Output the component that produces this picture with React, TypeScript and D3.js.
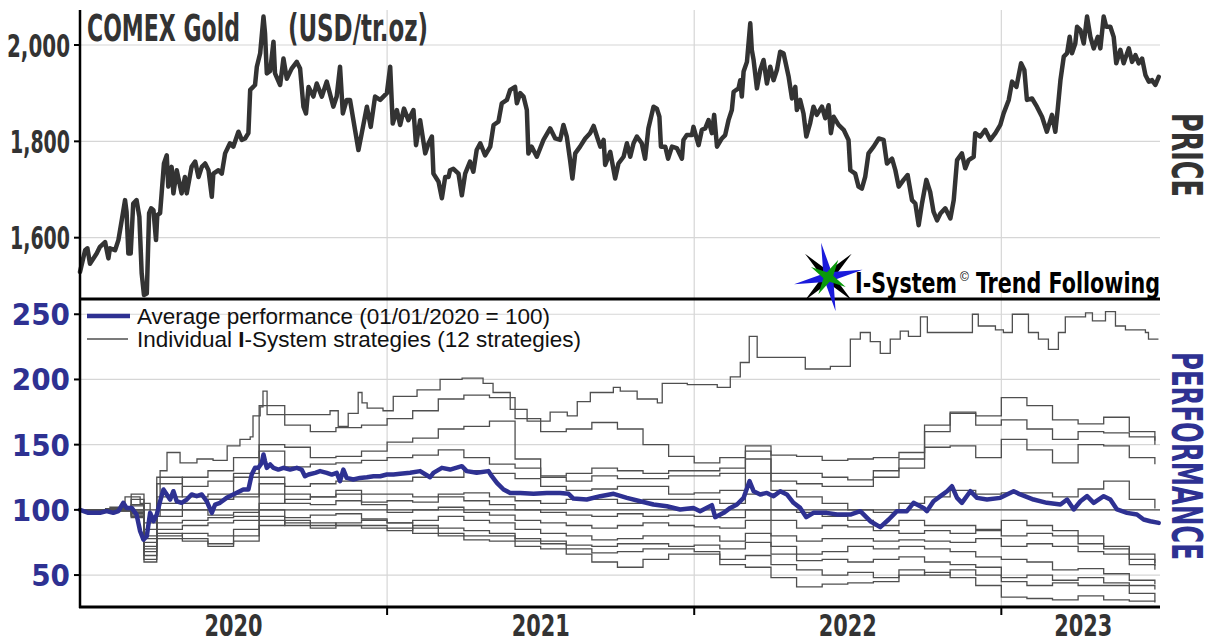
import React from "react";
import * as d3 from "d3";

// months are counted from 01/01/2020
const priceTicks = [1600, 1800, 2000];
const perfTicks = [50, 100, 150, 200, 250];
const yearBreaks = [12, 24, 36];
const yearLabels = ["2020", "2021", "2022", "2023"];
const yearLabelMonths = [6, 18, 30, 39.2];

// COMEX gold, [month, USD/tr.oz]
const goldPrice: [number, number][] = [
  [0, 1529], [0.2, 1574], [0.29, 1578], [0.39, 1546], [0.65, 1567], [0.78, 1581], [0.98, 1591], [1.11, 1557],
  [1.17, 1578], [1.37, 1574], [1.5, 1595], [1.63, 1636], [1.76, 1678], [1.82, 1653], [1.89, 1567], [1.98, 1567],
  [2.08, 1671], [2.21, 1678], [2.32, 1643], [2.41, 1526], [2.5, 1481], [2.61, 1484], [2.7, 1651], [2.78, 1661],
  [2.87, 1657], [2.97, 1595], [3.02, 1647], [3.13, 1651], [3.19, 1692], [3.28, 1754], [3.39, 1771], [3.45, 1706],
  [3.58, 1747], [3.65, 1692], [3.78, 1740], [3.97, 1692], [4.1, 1726], [4.17, 1692], [4.36, 1747], [4.5, 1758],
  [4.63, 1726], [4.76, 1747], [4.89, 1754], [5.02, 1740], [5.15, 1685], [5.21, 1733], [5.41, 1740], [5.54, 1733],
  [5.67, 1775], [5.86, 1796], [5.99, 1789], [6.19, 1820], [6.32, 1803], [6.45, 1806], [6.58, 1817], [6.65, 1907],
  [6.84, 1917], [6.91, 1955], [7.04, 1983], [7.17, 2059], [7.23, 2024], [7.3, 1941], [7.43, 1946], [7.56, 2007],
  [7.62, 1941], [7.82, 1917], [7.95, 1972], [8.08, 1930], [8.27, 1951], [8.47, 1965], [8.6, 1951], [8.73, 1872],
  [8.83, 1858], [8.93, 1913], [9.12, 1893], [9.25, 1920], [9.45, 1893], [9.64, 1924], [9.9, 1872], [10.03, 1893],
  [10.16, 1955], [10.27, 1858], [10.42, 1886], [10.55, 1886], [10.75, 1823], [10.88, 1782], [11.01, 1817], [11.21, 1872],
  [11.36, 1830], [11.53, 1893], [11.73, 1886], [11.99, 1900], [12.12, 1955], [12.22, 1837], [12.38, 1865], [12.51, 1834],
  [12.66, 1868], [12.83, 1844], [13.03, 1865], [13.13, 1792], [13.29, 1844], [13.49, 1775], [13.62, 1796], [13.75, 1810],
  [13.81, 1733], [14.01, 1716], [14.14, 1682], [14.27, 1726], [14.4, 1726], [14.46, 1740], [14.59, 1743], [14.79, 1733],
  [14.92, 1688], [15.05, 1733], [15.24, 1758], [15.37, 1737], [15.5, 1782], [15.64, 1796], [15.83, 1771], [16.03, 1789],
  [16.16, 1834], [16.35, 1841], [16.48, 1879], [16.68, 1886], [16.81, 1907], [17.0, 1913], [17.07, 1879], [17.2, 1900],
  [17.33, 1893], [17.46, 1865], [17.52, 1775], [17.65, 1789], [17.85, 1768], [18.11, 1803], [18.37, 1827], [18.57, 1806],
  [18.76, 1803], [18.89, 1834], [19.02, 1810], [19.15, 1761], [19.24, 1723], [19.35, 1775], [19.54, 1789], [19.74, 1806],
  [19.93, 1817], [20.07, 1832], [20.2, 1810], [20.33, 1789], [20.46, 1803], [20.52, 1751], [20.72, 1778], [20.91, 1723],
  [21.04, 1754], [21.24, 1768], [21.37, 1796], [21.5, 1768], [21.63, 1796], [21.76, 1810], [21.95, 1796], [22.08, 1764],
  [22.21, 1827], [22.41, 1872], [22.54, 1868], [22.64, 1851], [22.7, 1789], [22.87, 1789], [22.98, 1764], [23.13, 1789],
  [23.32, 1786], [23.52, 1764], [23.58, 1803], [23.71, 1813], [23.91, 1813], [23.97, 1830], [24.17, 1792], [24.3, 1824],
  [24.43, 1827], [24.56, 1844], [24.69, 1817], [24.78, 1855], [24.89, 1789], [25.08, 1806], [25.21, 1813], [25.34, 1844],
  [25.47, 1865], [25.54, 1903], [25.73, 1910], [25.8, 1927], [25.86, 1893], [25.93, 1945], [26.06, 1965], [26.19, 2045],
  [26.25, 1990], [26.32, 1969], [26.45, 1910], [26.58, 1948], [26.71, 1969], [26.84, 1920], [26.97, 1955], [27.1, 1927],
  [27.23, 1948], [27.36, 1986], [27.49, 1983], [27.69, 1934], [27.82, 1889], [27.95, 1913], [28.01, 1865], [28.14, 1886],
  [28.27, 1858], [28.38, 1810], [28.53, 1838], [28.66, 1872], [28.79, 1855], [28.99, 1872], [29.12, 1848], [29.25, 1875],
  [29.34, 1817], [29.45, 1851], [29.64, 1834], [29.84, 1824], [30.03, 1803], [30.1, 1740], [30.29, 1733], [30.42, 1706],
  [30.55, 1702], [30.68, 1726], [30.81, 1775], [31.01, 1789], [31.21, 1806], [31.4, 1803], [31.53, 1754], [31.73, 1764],
  [31.86, 1740], [31.99, 1706], [32.18, 1720], [32.34, 1730], [32.51, 1678], [32.64, 1671], [32.77, 1626], [32.9, 1671],
  [33.07, 1720], [33.22, 1695], [33.35, 1654], [33.49, 1636], [33.62, 1650], [33.81, 1661], [34.01, 1640], [34.14, 1678],
  [34.27, 1761], [34.46, 1775], [34.59, 1744], [34.72, 1761], [34.92, 1768], [34.98, 1817], [35.18, 1810], [35.37, 1824],
  [35.57, 1803], [35.77, 1817], [35.96, 1834], [36.09, 1858], [36.29, 1886], [36.42, 1924], [36.59, 1913], [36.77, 1962],
  [36.9, 1948], [37.0, 1886], [37.2, 1889], [37.39, 1872], [37.59, 1851], [37.78, 1820], [37.98, 1855], [38.11, 1820],
  [38.2, 1865], [38.31, 1927], [38.44, 1976], [38.57, 1983], [38.67, 2017], [38.76, 1983], [38.89, 2003], [38.96, 2038],
  [39.09, 2031], [39.22, 2003], [39.35, 2059], [39.48, 2017], [39.61, 1993], [39.77, 2017], [39.87, 1993], [40.0, 2059],
  [40.1, 2038], [40.26, 2038], [40.39, 2017], [40.49, 1962], [40.65, 1990], [40.78, 1962], [40.98, 1993], [41.11, 1965],
  [41.24, 1979], [41.37, 1962], [41.5, 1972], [41.63, 1938], [41.76, 1924], [41.89, 1927], [42.02, 1917], [42.15, 1934],
];

// average of the 12 strategies, [month, index]
const averagePerf: [number, number][] = [
  [0, 100], [0.33, 97.7], [0.78, 97.7], [1.04, 99], [1.3, 97.7], [1.5, 99], [1.69, 105.4], [1.82, 101.5],
  [2.02, 101.5], [2.21, 96.4], [2.35, 83.6], [2.48, 77.2], [2.61, 79.8], [2.74, 97.7], [2.87, 91.3], [3.0, 96.4],
  [3.13, 106.6], [3.26, 115.6], [3.39, 111.8], [3.52, 107.9], [3.65, 114.3], [3.78, 106.6], [3.97, 105.4], [4.17, 107.9],
  [4.36, 111.8], [4.56, 110.5], [4.76, 111.8], [4.95, 106.6], [5.15, 97.7], [5.28, 104.1], [5.47, 105.4], [5.73, 109.2],
  [5.99, 111.8], [6.38, 115.6], [6.58, 115.6], [6.71, 127.1], [6.84, 132.2], [6.97, 132.2], [7.1, 136], [7.17, 142.4],
  [7.23, 137.3], [7.3, 132.2], [7.43, 134.8], [7.56, 132.2], [7.75, 130.9], [7.95, 132.2], [8.21, 130.9], [8.47, 132.2],
  [8.66, 130.9], [8.79, 125.8], [8.93, 127.1], [9.19, 128.4], [9.38, 129.7], [9.64, 128.4], [9.84, 127.1], [10.03, 128.4],
  [10.16, 122], [10.29, 130.9], [10.42, 124.5], [10.68, 123.3], [10.94, 124.5], [11.21, 125], [11.47, 125.8], [11.73, 125.8],
  [11.99, 127.1], [12.25, 127.1], [12.51, 127.6], [12.9, 128.4], [13.29, 129.7], [13.68, 125], [13.81, 128.4], [14.14, 132.2],
  [14.46, 130.9], [14.92, 133.5], [15.11, 129.7], [15.5, 128.4], [15.96, 129.7], [16.09, 125.8], [16.29, 120.7], [16.55, 115.6],
  [16.81, 113], [17.2, 113], [17.72, 112.3], [18.24, 113], [18.76, 113], [19.09, 112.3], [19.28, 108.7], [19.8, 107.9],
  [20.33, 110.5], [20.85, 112.3], [21.37, 109.2], [21.89, 106.6], [22.41, 104.1], [22.93, 102.8], [23.45, 100.3], [23.97, 101.5],
  [24.23, 99], [24.69, 103.6], [24.82, 94.4], [25.15, 97.7], [25.41, 101.5], [25.67, 104.1], [25.93, 109.2], [26.16, 122],
  [26.32, 114.3], [26.58, 111.8], [26.84, 113], [27.1, 110.5], [27.36, 114.3], [27.62, 111.8], [27.88, 105.4], [28.14, 101.5],
  [28.38, 94.4], [28.66, 97.7], [29.18, 97.7], [29.58, 96.4], [30.1, 96.4], [30.49, 99], [30.88, 91.3], [31.27, 86.7],
  [31.6, 92.6], [31.92, 99], [32.31, 99], [32.57, 105.4], [32.96, 101.5], [33.09, 99], [33.35, 106.6], [33.62, 110.5],
  [33.88, 114.3], [34.07, 118.1], [34.27, 109.2], [34.46, 105.4], [34.79, 114.3], [35.05, 109.2], [35.44, 107.9], [35.96, 109.2],
  [36.48, 114.3], [36.74, 111.8], [37.26, 107.9], [37.78, 105.4], [38.31, 104.1], [38.57, 107.9], [38.83, 100.3], [39.09, 106.6],
  [39.35, 110.5], [39.61, 105.4], [40.0, 110.5], [40.26, 107.9], [40.52, 100.3], [40.91, 97.7], [41.3, 96.4], [41.56, 92.6],
  [41.82, 91.3], [42.15, 90],
];

// best individual strategy, [month, index]
const strategyTop: [number, number][] = [
  [0, 100], [1.17, 102], [1.76, 110], [2.35, 105], [2.74, 95], [3.13, 130], [3.4, 144], [3.91, 136], [4.57, 139],
  [5.2, 138], [5.75, 149], [6.25, 154], [6.65, 156], [6.76, 172], [7.04, 179], [7.15, 191], [7.31, 173], [8.6, 173],
  [9.77, 176], [10.09, 164], [10.48, 174], [10.87, 190], [11.02, 182], [11.22, 178], [11.84, 176], [12.24, 187],
  [13.17, 192], [14.07, 200], [14.93, 201], [15.75, 197], [16.14, 190], [16.81, 177], [17.47, 168], [18.37, 175],
  [19.04, 172], [19.43, 183], [19.94, 190], [20.84, 194], [21.11, 191], [21.77, 185], [22.56, 182], [22.75, 197],
  [23.73, 196], [24.9, 194], [25.41, 202], [25.8, 213], [26.15, 233], [26.46, 217], [28.07, 217], [28.34, 208],
  [29.32, 210], [30.1, 231], [30.49, 236], [30.88, 229], [31.27, 220], [31.66, 231], [32.05, 237], [32.37, 233],
  [32.84, 248], [33.11, 236], [34.48, 236], [34.87, 250], [35.1, 241], [35.77, 238], [36.08, 236], [36.43, 250],
  [36.67, 250], [37.06, 236], [37.45, 231], [37.84, 223], [38.23, 236], [38.5, 248], [39.29, 251], [39.56, 245],
  [40.07, 252], [40.46, 241], [40.85, 238], [41.63, 236], [41.75, 231], [42.14, 231],
];

// the other eleven strategies, sampled at these months
const stratMonths = [0, 1, 2, 2.5, 3, 4, 5, 6, 7, 8, 9, 10, 11, 12, 13, 14, 15, 16, 17, 18, 19, 20, 21, 22,
  23, 24, 25, 26, 27, 28, 29, 30, 31, 32, 33, 34, 35, 36, 37, 38, 39, 40, 41, 42];
const strategyB = [100, 101, 108, 90, 120, 125, 130, 140, 180, 165, 160, 163, 165, 170, 176, 185, 188, 186, 170, 160, 162, 167, 162, 150,
  141, 136, 140, 149, 142, 141, 138, 139, 140, 144, 165, 175, 172, 186, 180, 169, 166, 171, 160, 153];
const strategyC = [100, 99, 104, 85, 110, 118, 122, 128, 150, 148, 140, 141, 145, 152, 155, 162, 164, 168, 139, 126, 128, 132, 130, 128,
  130, 130, 132, 145, 128, 128, 125, 123, 130, 139, 160, 174, 165, 169, 162, 154, 160, 159, 156, 150];
const strategyD = [100, 100, 112, 80, 125, 110, 112, 125, 145, 133, 135, 136, 138, 140, 142, 146, 140, 135, 132, 125, 122, 126, 124, 124,
  126, 126, 128, 139, 122, 120, 118, 118, 125, 132, 148, 149, 140, 154, 146, 136, 150, 149, 140, 135];
const strategyE = [100, 100, 103, 78, 105, 105, 108, 110, 125, 118, 120, 122, 122, 122, 125, 125, 130, 128, 124, 118, 115, 116, 118, 118,
  112, 113, 115, 128, 115, 110, 105, 100, 98, 105, 110, 115, 112, 113, 113, 110, 116, 122, 108, 101];
const strategyF = [100, 100, 98, 70, 100, 105, 108, 112, 120, 112, 110, 112, 112, 112, 110, 112, 113, 110, 107, 105, 108, 108, 105, 108,
  108, 108, 105, 112, 100, 98, 95, 92, 88, 92, 88, 88, 85, 92, 88, 84, 80, 72, 66, 59];
const strategyG = [100, 100, 95, 65, 95, 100, 96, 98, 112, 105, 104, 107, 106, 107, 106, 110, 107, 104, 100, 98, 96, 95, 97, 95,
  96, 95, 94, 100, 92, 86, 88, 87, 84, 82, 84, 82, 84, 80, 82, 80, 74, 70, 62, 57];
const strategyH = [100, 99, 96, 68, 90, 92, 94, 95, 105, 108, 110, 115, 104, 98, 100, 102, 98, 96, 92, 90, 88, 86, 88, 90,
  88, 87, 86, 92, 80, 76, 78, 78, 76, 77, 76, 75, 78, 72, 74, 72, 68, 66, 58, 54];
const strategyI = [100, 100, 94, 62, 85, 88, 90, 92, 100, 94, 96, 97, 93, 90, 92, 95, 92, 90, 85, 82, 80, 77, 78, 80,
  80, 80, 76, 82, 72, 66, 68, 72, 70, 72, 70, 68, 64, 62, 60, 54, 55, 51, 46, 43];
const strategyJ = [100, 100, 97, 60, 80, 82, 80, 85, 95, 90, 88, 88, 86, 84, 88, 86, 84, 82, 78, 76, 73, 72, 74, 74,
  72, 73, 70, 75, 66, 61, 62, 60, 62, 64, 60, 58, 56, 48, 50, 46, 48, 44, 42, 39];
const strategyK = [100, 100, 100, 72, 78, 76, 72, 80, 92, 88, 86, 90, 92, 90, 86, 82, 80, 80, 76, 74, 70, 67, 68, 70,
  70, 68, 62, 65, 58, 54, 50, 52, 48, 54, 50, 54, 50, 45, 42, 44, 42, 42, 36, 30];
const strategyL = [100, 100, 99, 75, 82, 78, 74, 76, 88, 92, 90, 88, 88, 86, 82, 80, 77, 76, 72, 70, 66, 60, 56, 62,
  66, 66, 58, 56, 48, 41, 43, 44, 45, 50, 52, 48, 42, 33, 32, 31, 34, 31, 30, 29];

const otherStrategies = [strategyB, strategyC, strategyD, strategyE, strategyF, strategyG,
  strategyH, strategyI, strategyJ, strategyK, strategyL];

const W = 1211;
const H = 642;
const left = 80;
const right = 1160;
const priceTop = 10;
const split = 299;
const bottom = 607;

const dark = "#333333";
const blue = "#2e3192";
const grid = "#d6d6d6";
const stratColor = "#4f4f4f";
const narrow = "'Liberation Sans Narrow', 'DejaVu Sans Condensed', 'Arial Narrow', sans-serif";
const sans = "'Liberation Sans', Arial, sans-serif";

function starPoints(cx: number, cy: number, R: number, r: number, rotDeg: number) {
  const pts: string[] = [];
  for (let i = 0; i < 8; i++) {
    const a = ((rotDeg + i * 45) * Math.PI) / 180;
    const rad = i % 2 === 0 ? R : r;
    pts.push(`${(cx + rad * Math.sin(a)).toFixed(1)},${(cy - rad * Math.cos(a)).toFixed(1)}`);
  }
  return pts.join(" ");
}

export default function App() {
  const x = d3.scaleLinear().domain([0, 42.2]).range([left, right]);
  const yPrice = d3.scaleLinear().domain([1472.7, 2072.7]).range([split, priceTop]);
  const yPerf = d3.scaleLinear().domain([25.5, 261.7]).range([bottom, split]);

  const priceLine = d3.line<[number, number]>().x((d) => x(d[0])).y((d) => yPrice(d[1]));
  const perfLine = d3.line<[number, number]>().x((d) => x(d[0])).y((d) => yPerf(d[1]));
  const stepLine = d3.line<[number, number]>().x((d) => x(d[0])).y((d) => yPerf(d[1])).curve(d3.curveStepAfter);

  const stratSeries: [number, number][][] = otherStrategies.map((vals) =>
    vals.map((v, i) => [stratMonths[i], v] as [number, number])
  );

  const fmt = d3.format(",");
  const logoX = x(30.1);

  return (
    <svg width={W} height={H} style={{ position: "absolute", left: 0, top: 0, background: "#fff" }}>
      <rect width={W} height={H} fill="#fff" />

      {/* grids */}
      {priceTicks.map((t) => (
        <line key={"pg" + t} x1={left} x2={right} y1={yPrice(t)} y2={yPrice(t)} stroke={grid} strokeWidth={1.2} />
      ))}
      {perfTicks.map((t) => (
        <line key={"fg" + t} x1={left} x2={right} y1={yPerf(t)} y2={yPerf(t)} stroke={grid} strokeWidth={1.2} />
      ))}
      {yearBreaks.map((m) => (
        <line key={"vg" + m} x1={x(m)} x2={x(m)} y1={priceTop} y2={bottom} stroke={grid} strokeWidth={1.2} />
      ))}

      {/* price */}
      <path d={priceLine(goldPrice) || ""} fill="none" stroke={dark} strokeWidth={4.5} strokeLinejoin="round" strokeLinecap="round" />

      {/* performance */}
      {stratSeries.map((s, i) => (
        <path key={"s" + i} d={stepLine(s) || ""} fill="none" stroke={stratColor} strokeWidth={1.3} />
      ))}
      <path d={stepLine(strategyTop) || ""} fill="none" stroke={stratColor} strokeWidth={1.3} />
      <line x1={left} x2={right} y1={yPerf(100)} y2={yPerf(100)} stroke={stratColor} strokeWidth={1.3} />
      <path d={perfLine(averagePerf) || ""} fill="none" stroke={blue} strokeWidth={4.5} strokeLinejoin="round" strokeLinecap="round" />

      {/* axes */}
      <line x1={left} x2={left} y1={priceTop} y2={bottom + 1} stroke="#000" strokeWidth={2.5} />
      <line x1={left} x2={right} y1={split} y2={split} stroke="#000" strokeWidth={3} />
      <line x1={left - 1} x2={right} y1={bottom} y2={bottom} stroke="#000" strokeWidth={3} />
      {priceTicks.map((t) => (
        <g key={"pt" + t}>
          <line x1={left - 6} x2={left} y1={yPrice(t)} y2={yPrice(t)} stroke="#000" strokeWidth={2} />
          <text x={70} y={yPrice(t) + 11.5} textAnchor="end" fontFamily={narrow} fontWeight="bold" fontSize={32} fill={dark}
            textLength={t === 2000 ? 63 : 60} lengthAdjust="spacingAndGlyphs">
            {fmt(t)}
          </text>
        </g>
      ))}
      {perfTicks.map((t) => (
        <g key={"ft" + t}>
          <line x1={left - 6} x2={left} y1={yPerf(t)} y2={yPerf(t)} stroke="#000" strokeWidth={2} />
          <text x={70} y={yPerf(t) + 11} textAnchor="end" fontFamily={narrow} fontWeight="bold" fontSize={31} fill={blue}>
            {t}
          </text>
        </g>
      ))}
      {yearBreaks.map((m) => (
        <line key={"xt" + m} x1={x(m)} x2={x(m)} y1={bottom} y2={bottom + 8} stroke="#000" strokeWidth={2} />
      ))}
      {yearLabels.map((lab, i) => (
        <text key={lab} x={x(yearLabelMonths[i])} y={636} textAnchor="middle" fontFamily={narrow} fontWeight="bold" fontSize={30} fill={dark}
          textLength={58} lengthAdjust="spacingAndGlyphs">
          {lab}
        </text>
      ))}

      {/* titles */}
      <text x={87} y={41} fontFamily={narrow} fontWeight="bold" fontSize={37} fill={dark} textLength={153} lengthAdjust="spacingAndGlyphs">
        COMEX Gold
      </text>
      <text x={288} y={41} fontFamily={narrow} fontWeight="bold" fontSize={37} fill={dark} textLength={140} lengthAdjust="spacingAndGlyphs">
        (USD/tr.oz)
      </text>
      <text transform="translate(1187,155) rotate(90)" textAnchor="middle" dy="0.36em" fontFamily={narrow} fontWeight="bold" fontSize={42}
        fill={dark} textLength={84} lengthAdjust="spacingAndGlyphs">
        PRICE
      </text>
      <text transform="translate(1187,456) rotate(90)" textAnchor="middle" dy="0.36em" fontFamily={narrow} fontWeight="bold" fontSize={42}
        fill={blue} textLength={208} lengthAdjust="spacingAndGlyphs">
        PERFORMANCE
      </text>

      {/* legend */}
      <line x1={87} x2={130} y1={316} y2={316} stroke={blue} strokeWidth={4.5} />
      <text x={137} y={324} fontFamily={sans} fontSize={22.5} fill="#111">
        Average performance (01/01/2020 = 100)
      </text>
      <line x1={87} x2={128} y1={339} y2={339} stroke={stratColor} strokeWidth={1.3} />
      <text x={137} y={347} fontFamily={sans} fontSize={22.5} fill="#111">
        Individual <tspan fontWeight="bold">I</tspan>-System strategies (12 strategies)
      </text>

      {/* logo */}
      <g>
        <polygon points={starPoints(logoX - 22, 277, 33, 6, 45)} fill="#000" />
        <polygon points={starPoints(logoX - 22, 277, 35, 6, -12)} fill="#1a1adb" />
        <polygon points={starPoints(logoX - 22, 277, 20, 5, 30)} fill="#0a9a0a" />
        <text x={855} y={293} fontFamily={narrow} fontWeight="bold" fontSize={29} fill="#000" textLength={102} lengthAdjust="spacingAndGlyphs">
          I-System
        </text>
        <text x={960} y={281} fontFamily={sans} fontSize={12} fill="#000">
          ©
        </text>
        <text x={976} y={293} fontFamily={narrow} fontWeight="bold" fontSize={29} fill="#000" textLength={184} lengthAdjust="spacingAndGlyphs">
          Trend Following
        </text>
      </g>
    </svg>
  );
}
